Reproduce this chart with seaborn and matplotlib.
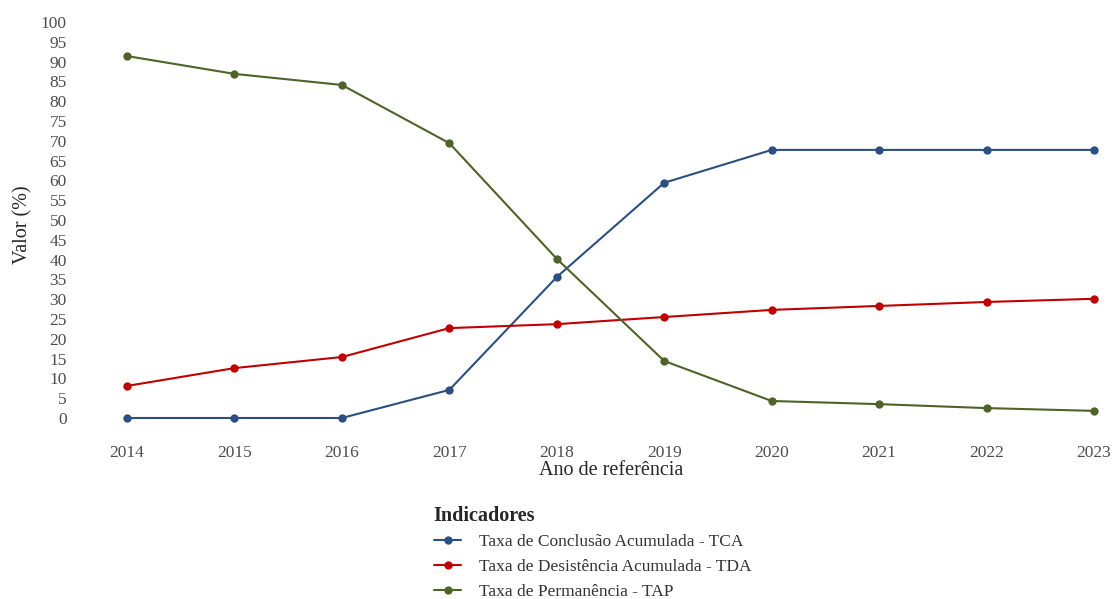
import pandas as pd
import matplotlib
matplotlib.use("Agg")
import matplotlib.pyplot as plt
import seaborn as sns

# Valores (%)
anos = [2014, 2015, 2016, 2017, 2018, 2019, 2020, 2021, 2022, 2023]
tca = [0, 0, 0, 7.1, 35.6, 59.4, 67.7, 67.7, 67.7, 67.7]
tda = [8.1, 12.6, 15.4, 22.7, 23.7, 25.5, 27.3, 28.3, 29.3, 30.1]
tap = [91.4, 86.9, 84.1, 69.4, 40.2, 14.4, 4.3, 3.5, 2.5, 1.8]

nomes = [
    "Taxa de Conclusão Acumulada - TCA",
    "Taxa de Desistência Acumulada - TDA",
    "Taxa de Permanência - TAP",
]
cores = ["#2b4f81", "#c00000", "#4f6228"]

df = pd.concat([
    pd.DataFrame({"Ano": anos, "Valor": vals, "Indicador": nome})
    for nome, vals in zip(nomes, [tca, tda, tap])
])

sns.set_theme(style="white")
plt.rcParams["font.family"] = ["Liberation Serif", "DejaVu Serif"]

fig = plt.figure(figsize=(11.14, 5.99), dpi=100)
ax = fig.add_axes([78 / 1114, (599 - 435) / 599, 1032 / 1114, 420 / 599])

sns.lineplot(data=df, x="Ano", y="Valor", hue="Indicador", hue_order=nomes,
             palette=cores, marker="o", markersize=6, markeredgewidth=0,
             linewidth=1.5, ax=ax)

px = 9 / (1094 - 127)
ax.set_xlim(2014 - 49 * px, 2023 + 16 * px)
ax.set_ylim(-17 / 3.96, 100 + 7 / 3.96)
ax.set_xticks(anos)
ax.set_yticks(range(0, 101, 5))
ax.tick_params(axis="both", labelsize=12.5, labelcolor="#4d4d4d", length=0)
ax.tick_params(axis="x", pad=7)
ax.tick_params(axis="y", pad=8)
for s in ax.spines.values():
    s.set_visible(False)
ax.grid(False)

ax.set_xlabel("Ano de referência", fontsize=14.5)
ax.xaxis.set_label_coords((611 - 78) / 1032, -26 / 420, transform=ax.transAxes)
ax.xaxis.label.set_va("top")
ax.set_ylabel("Valor (%)", fontsize=14.5, labelpad=6)

handles, labels = ax.get_legend_handles_labels()
ax.get_legend().remove()
leg = fig.legend(handles, labels, title="Indicadores", loc="upper left",
                 bbox_to_anchor=(418 / 1114, 1 - 490 / 599), frameon=False,
                 fontsize=12.5, labelcolor="#333333",
                 title_fontproperties={"weight": "bold", "size": 14.5},
                 alignment="left", handlelength=1.6, handletextpad=1.0,
                 labelspacing=0.5)

fig.savefig("out.png", dpi=100)
